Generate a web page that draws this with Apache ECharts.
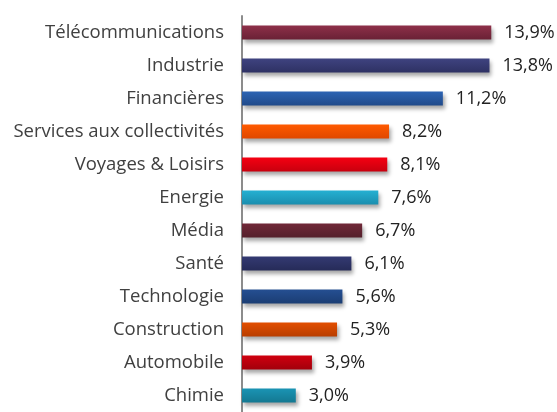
<!DOCTYPE html>
<html>
<head>
<meta charset="utf-8">
<script src="https://cdn.jsdelivr.net/npm/echarts@6/dist/echarts.min.js"></script>
<style>
  html, body { margin: 0; padding: 0; background: #fff; }
  #chart { width: 557px; height: 412px; }
</style>
</head>
<body>
<div id="chart"></div>
<script>
// secteurs et poids (%)
const sectors = ['Télécommunications', 'Industrie', 'Financières', 'Services aux collectivités',
  'Voyages & Loisirs', 'Energie', 'Média', 'Santé', 'Technologie', 'Construction', 'Automobile', 'Chimie']
const weights = [13.9, 13.8, 11.2, 8.2, 8.1, 7.6, 6.7, 6.1, 5.6, 5.3, 3.9, 3.0]

// couleurs des barres : [haut, bas]
const barColors = [
  ['#8e3049', '#6a2135'],
  ['#3f4380', '#2e3163'],
  ['#2d64b3', '#204a8a'],
  ['#ff5a00', '#e04800'],
  ['#f50012', '#c8000e'],
  ['#25b0d2', '#1a8eae'],
  ['#702838', '#54202b'],
  ['#343a72', '#262b58'],
  ['#254f92', '#1b3d73'],
  ['#e24e00', '#b83e00'],
  ['#d0000f', '#a2000b'],
  ['#1a94b4', '#147891']
]

const chart = echarts.init(document.getElementById('chart'))

const data = weights.map((v, i) => ({
  value: v,
  itemStyle: {
    color: new echarts.graphic.LinearGradient(0, 0, 0, 1, [
      { offset: 0, color: barColors[i][0] },
      { offset: 1, color: barColors[i][1] }
    ])
  }
}))

chart.setOption({
  animation: false,
  grid: { left: 242, right: 46, top: 16, bottom: -5, containLabel: false },
  xAxis: {
    type: 'value',
    min: 0,
    max: 15,
    show: false
  },
  yAxis: {
    type: 'category',
    inverse: true,
    data: sectors,
    axisLine: { lineStyle: { color: '#8c8c8c', width: 2 } },
    axisTick: { length: 6, lineStyle: { color: '#8c8c8c', width: 1.5 } },
    axisLabel: {
      margin: 18,
      fontFamily: 'Open Sans',
      fontSize: 18.5,
      color: '#404040'
    }
  },
  series: [{
    type: 'bar',
    data: data,
    barWidth: 14,
    itemStyle: {
      shadowColor: 'rgba(0,0,0,0.35)',
      shadowBlur: 4,
      shadowOffsetX: 2,
      shadowOffsetY: 3
    },
    label: {
      show: true,
      position: 'right',
      distance: 13,
      fontFamily: 'Open Sans',
      fontSize: 18,
      color: '#222',
      formatter: p => p.value.toFixed(1).replace('.', ',') + '%'
    }
  }]
})
</script>
</body>
</html>
